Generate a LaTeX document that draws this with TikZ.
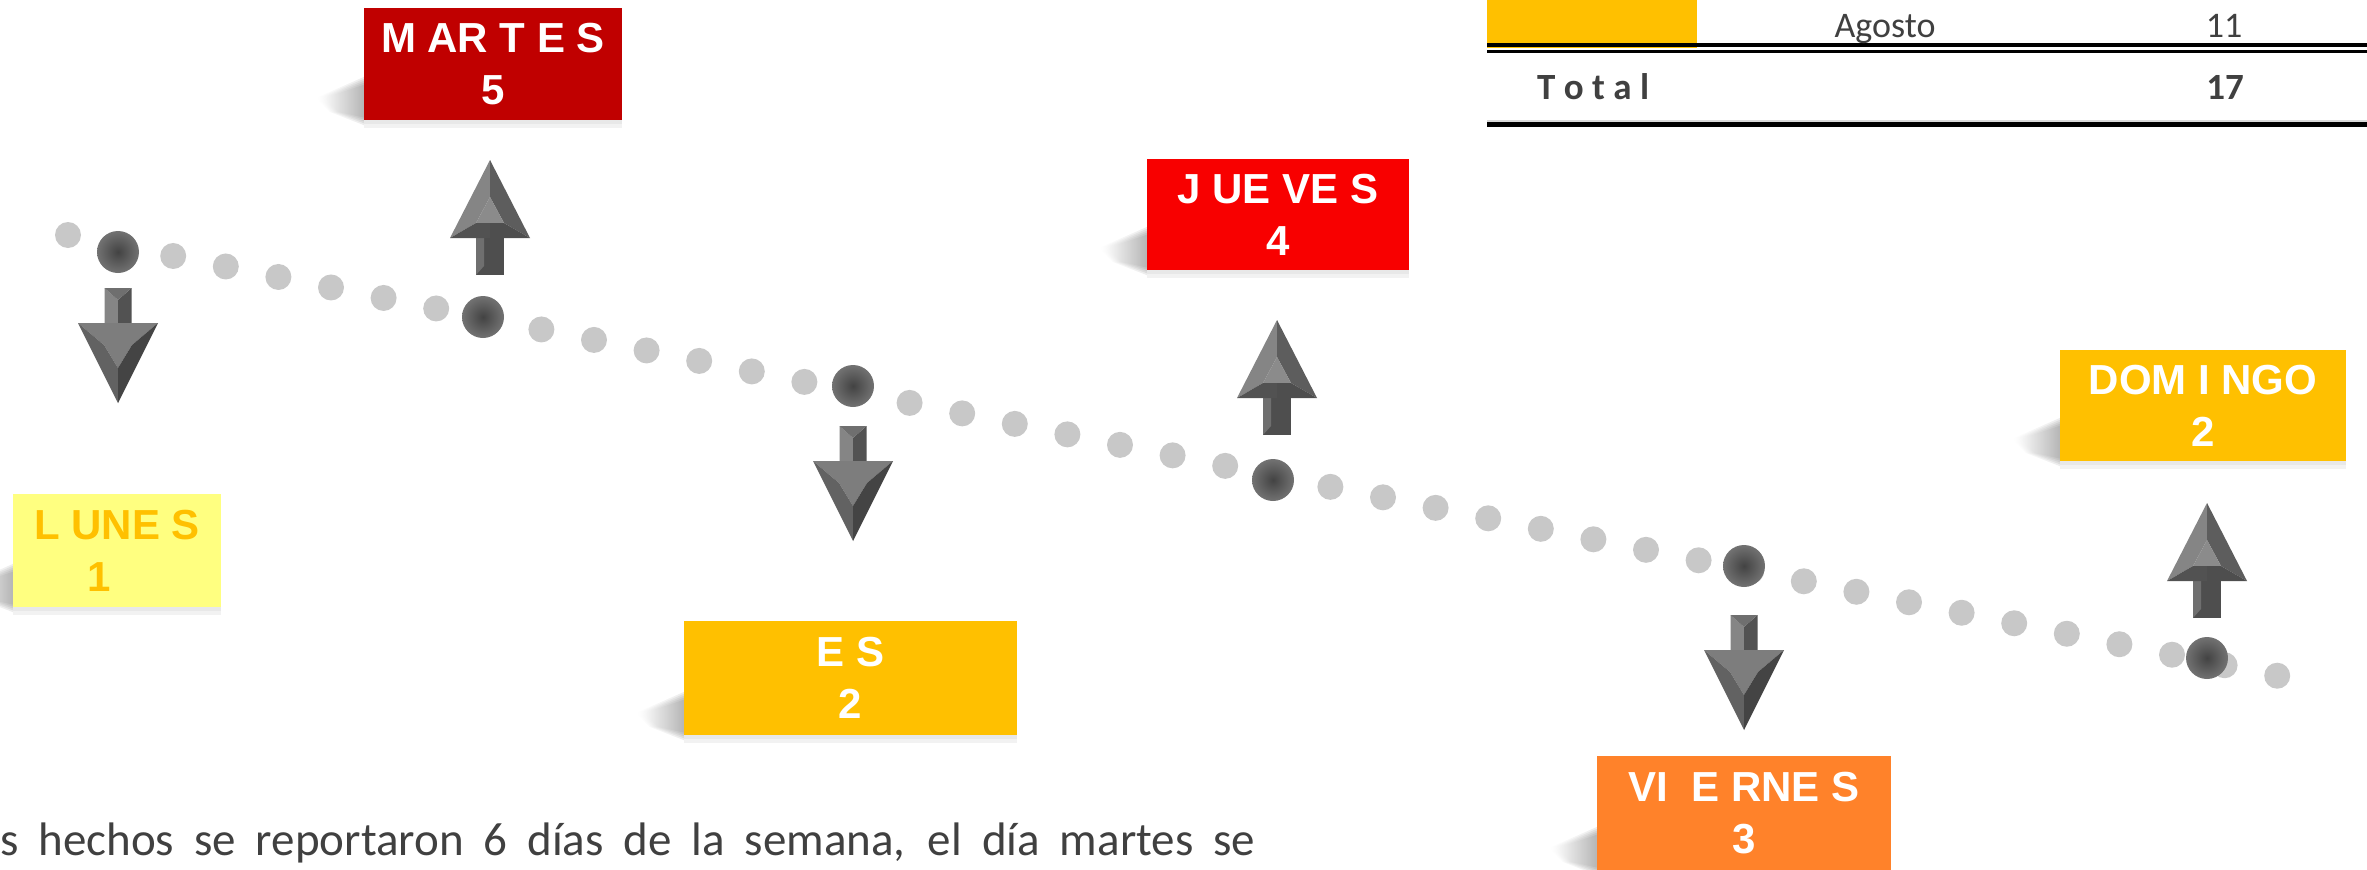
\documentclass[tikz,border=0pt]{standalone}
\usepackage{fontspec}
\setmainfont{Carlito}
\newfontfamily\boxfont{Liberation Sans}
\definecolor{dotgray}{HTML}{C8C8C8}
\definecolor{dkin}{HTML}{434343}
\definecolor{dkout}{HTML}{727272}
\definecolor{martesred}{HTML}{C00000}
\definecolor{juevesred}{HTML}{F80000}
\definecolor{lunesyel}{HTML}{FFFF80}
\definecolor{gold}{HTML}{FFC000}
\definecolor{vorange}{HTML}{FF822A}
\definecolor{txtgray}{HTML}{404040}
\definecolor{gA}{HTML}{858585}
\definecolor{gB}{HTML}{7D7D7D}
\definecolor{gC}{HTML}{626262}
\definecolor{gD}{HTML}{444444}
\definecolor{gE}{HTML}{525252}
\definecolor{gF}{HTML}{6F6F6F}
\definecolor{gG}{HTML}{8B8B8B}
\definecolor{gH}{HTML}{5D5D5D}
\definecolor{gI}{HTML}{4E4E4E}
\newcommand\DownArw[2]{%
  \fill[gA] (#1-13.5,#2) -- (#1,#2+12) -- (#1,#2+43) -- (#1-13.5,#2+35) -- cycle;
  \fill[gE] (#1+13.5,#2) -- (#1,#2+12) -- (#1,#2+43) -- (#1+13.5,#2+35) -- cycle;
  \fill[gF] (#1-13.5,#2) -- (#1+13.5,#2) -- (#1,#2+12) -- cycle;
  \fill[gB] (#1-40,#2+35) -- (#1+40,#2+35) -- (#1+14,#2+57) -- (#1,#2+80) -- (#1-14,#2+57) -- cycle;
  \fill[gC] (#1-40,#2+35) -- (#1-14,#2+57) -- (#1,#2+80) -- (#1,#2+115) -- cycle;
  \fill[gD] (#1+40,#2+35) -- (#1+14,#2+57) -- (#1,#2+80) -- (#1,#2+115) -- cycle;
}
\newcommand\UpArw[2]{%
  \fill[gI] (#1-14,#2+76) rectangle (#1+14,#2+115);
  \fill[gF] (#1-14,#2+76) -- (#1-6,#2+76) -- (#1-6,#2+106) -- (#1-14,#2+115) -- cycle;
  \fill[gA] (#1,#2) -- (#1-40,#2+78) -- (#1-14,#2+63) -- (#1,#2+37) -- cycle;
  \fill[gH] (#1,#2) -- (#1+40,#2+78) -- (#1+14,#2+63) -- (#1,#2+37) -- cycle;
  \fill[gG] (#1,#2+37) -- (#1-14,#2+63) -- (#1+14,#2+63) -- cycle;
  \fill[gE] (#1-40,#2+78) -- (#1-14,#2+63) -- (#1,#2+63) -- (#1,#2+78) -- cycle;
  \fill[gI] (#1+40,#2+78) -- (#1+14,#2+63) -- (#1,#2+63) -- (#1,#2+78) -- cycle;
}
\newcommand\BoxShadow[3]{% left, bottom, right
  \foreach \s in {0,2,4,6,8}{%
    \shade[left color=white, right color=black!60, opacity=0.13]
      (#1+2,#2-44+\s) -- (#1-48+\s,#2-22) -- (#1-34+\s,#2-8) -- (#1+2,#2+6-\s) -- cycle;}
  \fill[black!5] (#1,#2) rectangle (#3,#2+8);
  \fill[black!9] (#1,#2) rectangle (#3,#2+4);
}
\begin{document}
\begin{tikzpicture}[x=1pt,y=-1pt,
  daybox/.style={rectangle, inner sep=0pt, align=center, text=white,
    font=\boxfont\bfseries\fontsize{42}{52}\selectfont},
  tabtext/.style={inner sep=0pt, anchor=base, text=txtgray, font=\fontsize{36}{40}\selectfont},
  tabbold/.style={inner sep=0pt, anchor=base, text=txtgray, font=\bfseries\fontsize{37}{40}\selectfont},
  darkdot/.style={inner color=dkin, outer color=dkout}]
\useasboundingbox (0,0) rectangle (2367,870);
% table
\fill[gold] (1487,0) rectangle (1697,48);
\fill[black] (1487,42.5) rectangle (2367,46.5);
\fill[black] (1487,50) rectangle (2367,53);
\fill[black!15] (1487,120) rectangle (2367,121.5);
\fill[black] (1487,122) rectangle (2367,127);
\node[tabtext] (agosto) at (1885,37) {Agosto};
\node[tabtext] (once) at (2224,37) {11};
\node[tabbold, anchor=base west] (total) at (1537,99) {T o t a l};
\node[tabbold] (diecisiete) at (2225,99) {17};
% dotted line
\foreach \k in {0,...,42}
  \fill[dotgray] ({68+52.6*\k},{235+0.1995*52.6*\k}) circle[radius=13pt];
\shade[darkdot] (118,252) circle[radius=21pt];
\shade[darkdot] (483,317) circle[radius=21pt];
\shade[darkdot] (853,386) circle[radius=21pt];
\shade[darkdot] (1273,480) circle[radius=21pt];
\shade[darkdot] (1744,566) circle[radius=21pt];
\shade[darkdot] (2207,658) circle[radius=21pt];
% arrows
\DownArw{118}{288}
\UpArw{490}{160}
\DownArw{853}{426}
\UpArw{1277}{320}
\DownArw{1744}{615}
\UpArw{2207}{503}
% shadows
\BoxShadow{364}{120}{622}
\BoxShadow{1147}{270}{1409}
\BoxShadow{13}{607}{221}
\BoxShadow{684}{735}{1017}
\BoxShadow{1597}{870}{1891}
\BoxShadow{2060}{461}{2346}
% boxes
\node[daybox, fill=martesred, minimum width=258pt, minimum height=112pt] (martes) at (493,64) {M AR T E S\\5};
\node[daybox, fill=juevesred, minimum width=262pt, minimum height=111pt] (jueves) at (1278,214.5) {J UE VE S\\4};
\node[daybox, fill=lunesyel, text=gold, minimum width=208pt, minimum height=113pt] (lunes) at (117,550.5) {L UNE S\\1\hspace*{36pt}};
\node[daybox, fill=gold, minimum width=333pt, minimum height=114pt] (miercoles) at (850.5,678) {E S\\2};
\node[daybox, fill=vorange, minimum width=294pt, minimum height=114pt] (viernes) at (1744,813) {VI\ \ E RNE S\\3};
\node[daybox, fill=gold, minimum width=286pt, minimum height=111pt] (domingo) at (2203,405.5) {DOM I NGO\\2};
% bottom text
\node[anchor=base west, inner sep=0pt, text=txtgray, font=\fontsize{47}{56}\selectfont] (parrafo) at (0,855)
  {\makebox[1255pt][s]{s hechos se reportaron 6 días de la semana, el día martes se}};
\end{tikzpicture}
\end{document}
